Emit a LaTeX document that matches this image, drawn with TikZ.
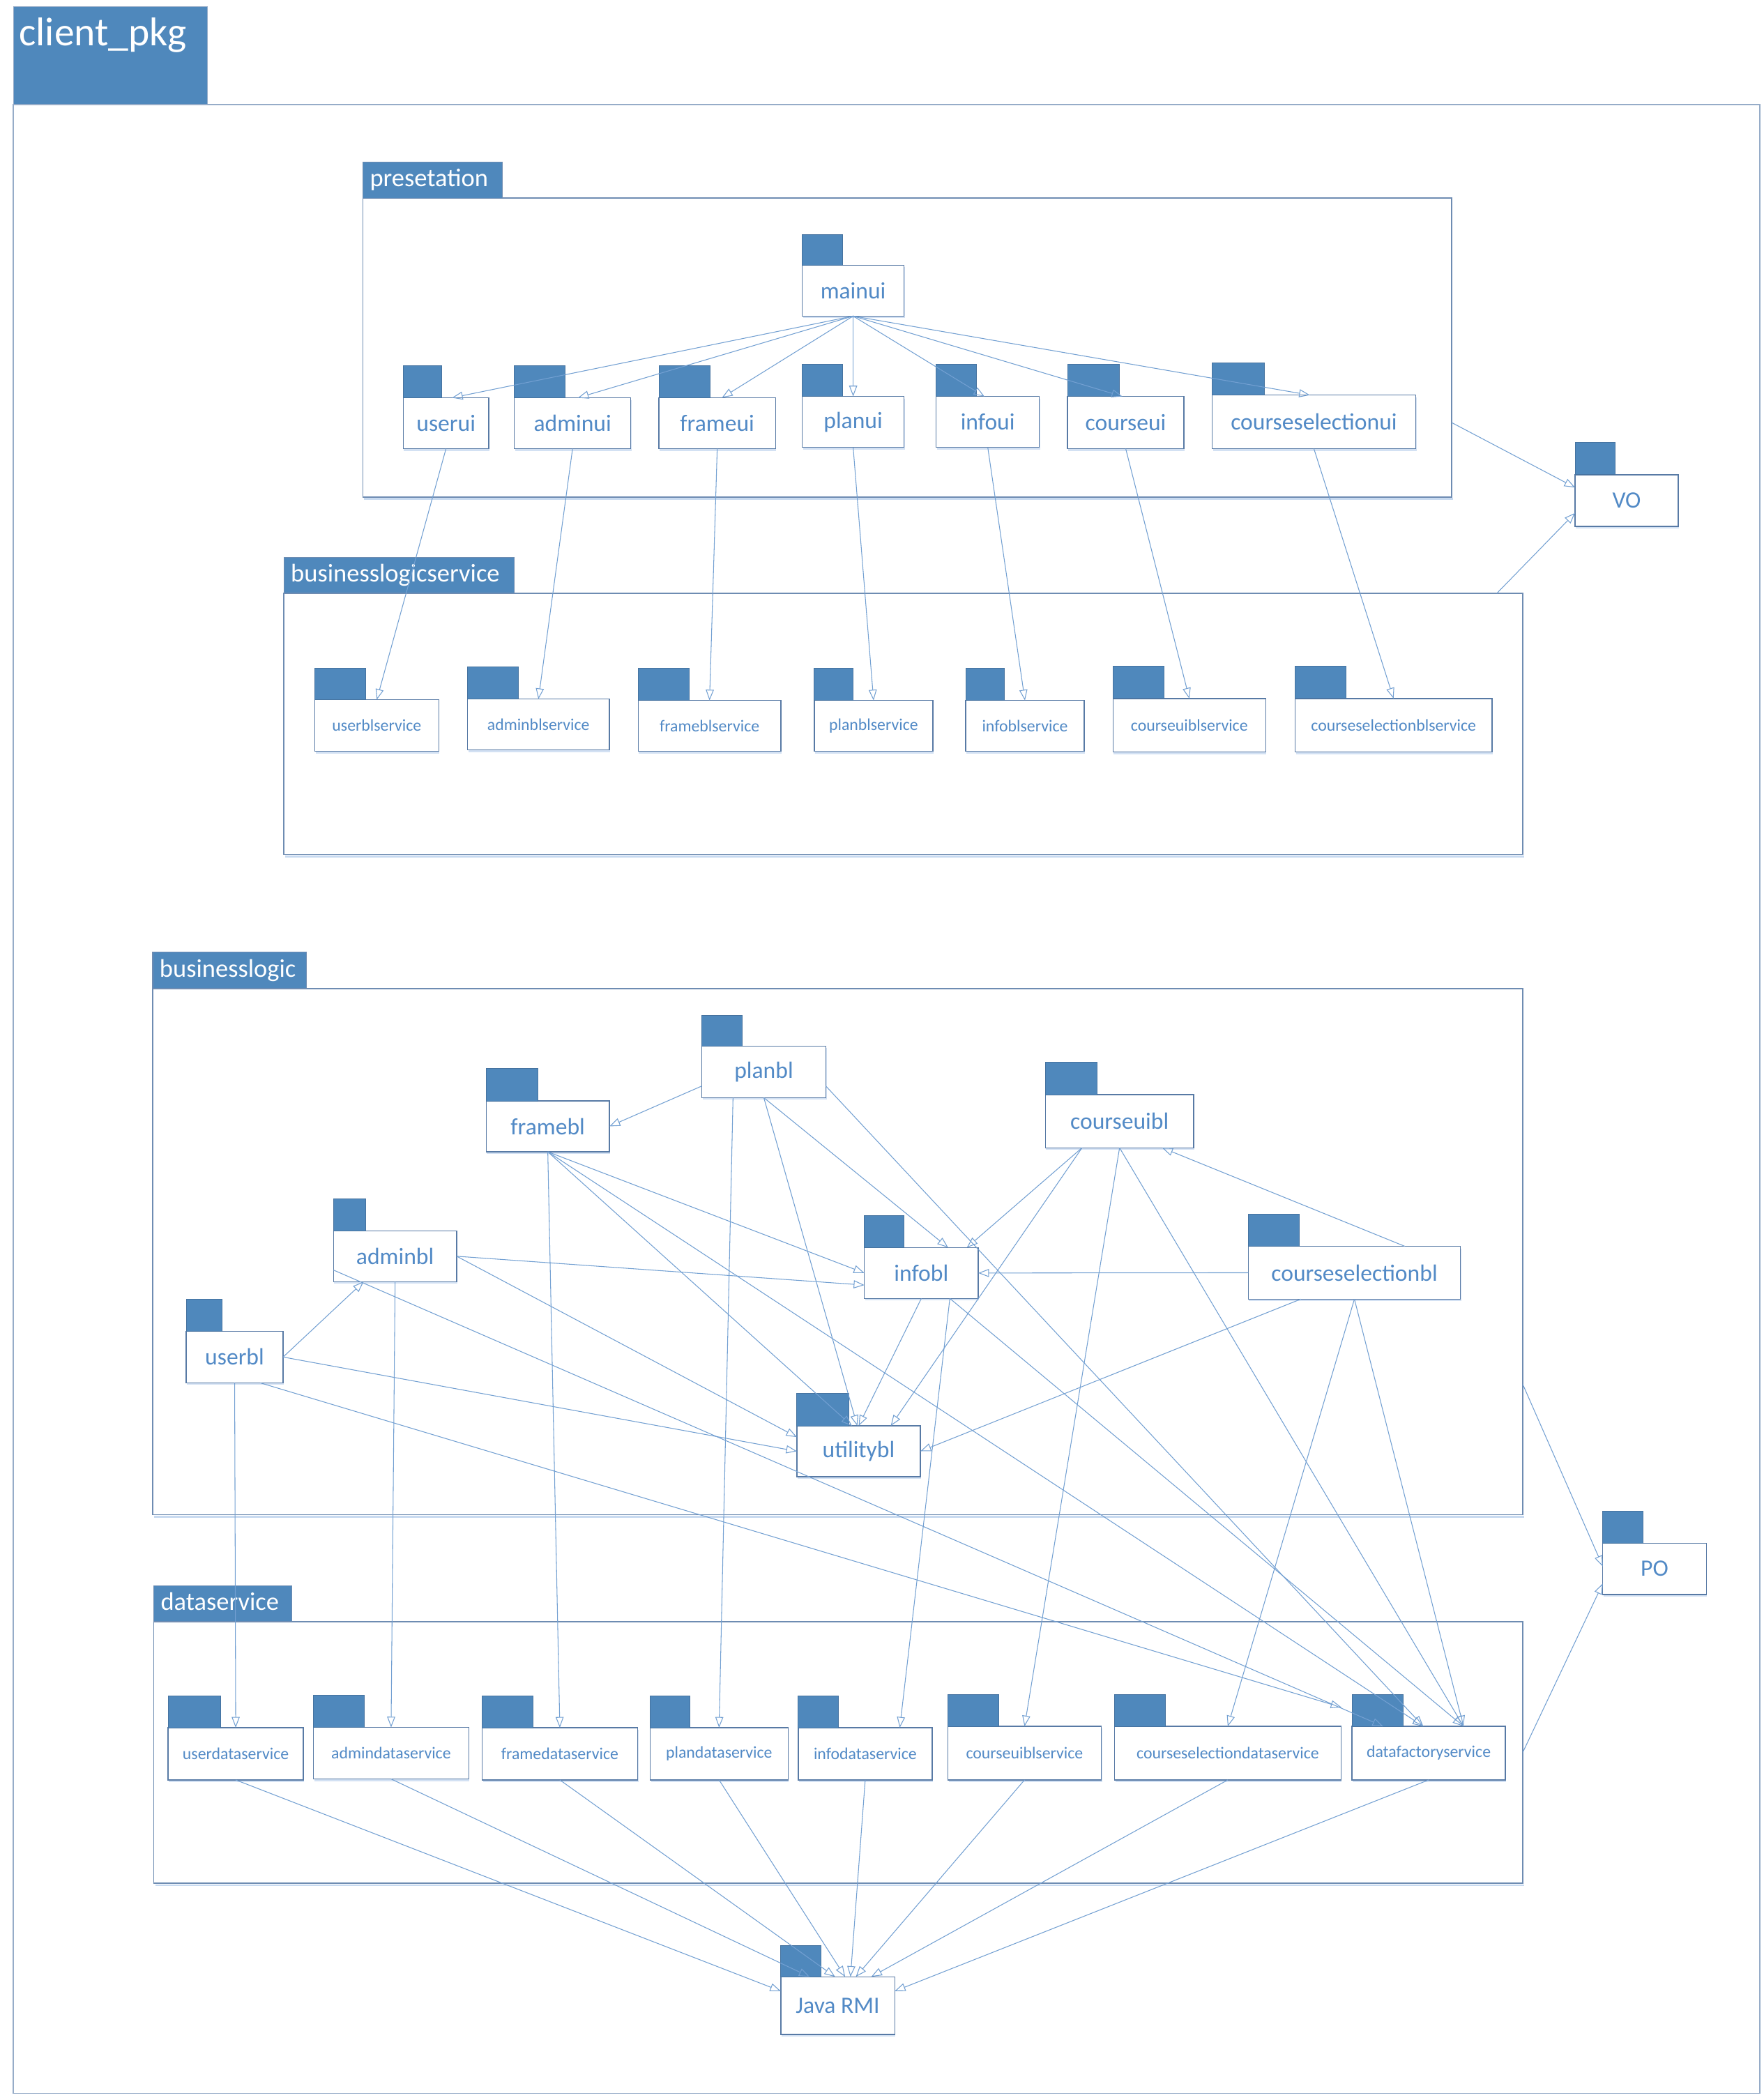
\documentclass[tikz,border=0pt]{standalone}
\usepackage{fontspec}
\setmainfont{Carlito}
\usetikzlibrary{arrows.meta,shadows}

\definecolor{tabblue}{RGB}{79,136,188}
\definecolor{tabedge}{RGB}{70,115,160}
\definecolor{outerline}{RGB}{150,172,200}
\definecolor{frameline}{RGB}{110,140,178}
\definecolor{boxline}{RGB}{88,122,165}
\definecolor{wire}{RGB}{115,160,210}
\definecolor{labelblue}{RGB}{82,138,198}
\definecolor{shadowblue}{RGB}{200,218,240}

% UML package symbol: body with text, small filled tab on its top-left
% [#1 extra style] #2 name, #3 top-left, #4 width, #5 height, #6 tab width, #7 tab height, #8 text
\newcommand\umlpkg[8][]{%
  \node[pkgbox,#1,minimum width=#4pt,minimum height=#5pt] (#2) at (#3) {#8};
  \node[pkgtab,minimum width=#6pt,minimum height=#7pt] (#2-tab) at (#2.north west) {};
}
% Container package: #1 name, #2 top-left of body, #3 width, #4 height, #5 tab width, #6 tab height, #7 label
\newcommand\container[7]{%
  \node[pkgframe,minimum width=#3pt,minimum height=#4pt] (#1) at (#2) {};
  \node[frametab,minimum width=#5pt,minimum height=#6pt] (#1-tab) at (#1.north west) {};
  \node[framelabel] (#1-label) at ([xshift=5pt,yshift=8.5pt]#1-tab.south west) {#7};
}

\begin{document}
\begin{tikzpicture}[x=1pt,y=-1pt,
  softshadow/.style={drop shadow={shadow xshift=0.6pt,shadow yshift=-1.6pt,fill=shadowblue,opacity=0.8}},
  pkgbox/.style={draw=boxline,line width=0.7pt,fill=white,inner sep=0pt,outer sep=0pt,softshadow,
    anchor=north west,text=labelblue,font=\fontsize{17.5}{20}\selectfont},
  svc/.style={font=\fontsize{12.4}{14}\selectfont},
  pkgtab/.style={draw=tabedge,line width=0.5pt,fill=tabblue,inner sep=0pt,outer sep=0pt,anchor=south west},
  pkgframe/.style={draw=frameline,line width=0.9pt,inner sep=0pt,outer sep=0pt,anchor=north west},
  frametab/.style={draw=frameline,line width=0.6pt,fill=tabblue,inner sep=0pt,outer sep=0pt,anchor=south west},
  framelabel/.style={anchor=base west,inner sep=0pt,text=white,font=\fontsize{19}{22}\selectfont},
  framefoot/.style={draw=shadowblue,line width=1.4pt},
  dep/.style={draw=wire,line width=0.55pt,-{Triangle[open,length=8pt,width=6pt]}}
]
\fill[white] (0,0) rectangle (1317,1568);
\useasboundingbox (0,0) rectangle (1317,1568);

% outer package
\node[pkgframe,draw=outerline,minimum width=1304pt,minimum height=1485pt] (client) at (10,78) {};
\node[frametab,draw=outerline,minimum width=145pt,minimum height=73pt] (client-tab) at (client.north west) {};
\node[anchor=base west,inner sep=0pt,text=white,font=\fontsize{30}{34}\selectfont] (client-label) at (14,34) {client\_pkg};

% layer packages (faint shadow under the lower edge)
\draw[framefoot] (272,372.6) -- (1085,372.6);
\draw[framefoot] (213,639.6) -- (1138,639.6);
\draw[framefoot] (115,1132.6) -- (1138,1132.6);
\draw[framefoot] (116,1407.6) -- (1138,1407.6);
\container{presetation}{271,148}{813}{223}{104}{27}{presetation}
\container{blservice}{212,443}{925}{195}{172}{27}{businesslogicservice}
\container{businesslogic}{114,738}{1023}{393}{115}{27}{businesslogic}
\container{dataservice}{114.8,1210.7}{1022.2}{195.3}{103}{26.7}{dataservice}

% presentation layer
\umlpkg{mainui}{599,198}{76}{38}{30}{23}{mainui}
\umlpkg{userui}{301,297}{64}{38}{29}{24}{userui}
\umlpkg{adminui}{384,297}{87}{38}{38}{24}{adminui}
\umlpkg{frameui}{492,297}{87}{38}{38}{24}{frameui}
\umlpkg{planui}{599,296}{76}{38}{30}{24}{planui}
\umlpkg{infoui}{699,296}{77}{38}{30}{24}{infoui}
\umlpkg{courseui}{797,296}{87}{39}{39}{24}{courseui}
\umlpkg{courseselectionui}{905,295}{152}{40}{39}{24}{courseselectionui}
\umlpkg{VO}{1176,354.5}{77}{38.5}{30}{24}{VO}

% business logic service layer
\umlpkg[svc]{userblservice}{235,522.5}{92.6}{38.5}{38}{23.5}{userblservice}
\umlpkg[svc]{adminblservice}{349,522}{106}{38}{38}{24}{adminblservice}
\umlpkg[svc]{frameblservice}{476.5,523}{106.5}{38}{38}{24}{frameblservice}
\umlpkg[svc]{planblservice}{608,523}{88.5}{38}{29}{24}{planblservice}
\umlpkg[svc]{infoblservice}{721,523}{88.5}{38}{29}{24}{infoblservice}
\umlpkg[svc]{courseuiblservice}{831,521.6}{114}{40}{38}{24}{courseuiblservice}
\umlpkg[svc]{courseselectionblservice}{967,521.6}{147}{40}{38}{24}{courseselectionblservice}

% business logic layer
\umlpkg{planbl}{524,781}{92.6}{38.6}{30}{23}{planbl}
\umlpkg{framebl}{363,822}{92}{38}{38.5}{24}{framebl}
\umlpkg{adminbl}{249,919}{92}{38}{24}{24}{adminbl}
\umlpkg{userbl}{139,994}{72.4}{38.5}{27}{24}{userbl}
\umlpkg{utilitybl}{595,1064.6}{92.2}{38}{38.8}{24}{utilitybl}
\umlpkg{infobl}{645.4,931.5}{85}{38}{29.6}{24}{infobl}
\umlpkg{courseuibl}{780.5,817.3}{110.8}{39.7}{38.5}{24}{courseuibl}
\umlpkg{courseselectionbl}{932,930.6}{158.5}{39.4}{38}{24}{courseselectionbl}
\umlpkg{PO}{1196.7,1152.2}{77.3}{38.3}{30}{24}{PO}

% data service layer
\umlpkg[svc]{userdata}{125.5,1290}{101}{39}{39}{23.5}{userdataservice}
\umlpkg[svc]{admindata}{234,1289.8}{116}{38.5}{38}{24}{admindataservice}
\umlpkg[svc]{framedata}{360,1290}{116}{39}{38}{23.5}{framedataservice}
\umlpkg[svc]{plandata}{485.4,1290}{103}{39}{29.6}{23.5}{plandataservice}
\umlpkg[svc]{infodata}{596,1290}{100}{39}{30}{23.5}{infodataservice}
\umlpkg[svc]{courseuidata}{707.7,1289}{114.5}{40}{38}{23.5}{courseuiblservice}
\umlpkg[svc]{courseseldata}{832.2,1289}{169}{40}{38}{23.5}{courseselectiondataservice}
\umlpkg[svc]{dfs}{1009.4,1289}{114.6}{40}{38.2}{24}{datafactoryservice}
\umlpkg{rmi}{583,1476}{85}{43}{30}{23.5}{Java RMI}

% mainui uses every ui package
\draw[dep] (mainui.south) -- ([xshift=4.5pt]userui.north);
\draw[dep] (mainui.south) -- ([xshift=4pt]adminui.north);
\draw[dep] (mainui.south) -- ([xshift=3.5pt]frameui.north);
\draw[dep] (mainui.south) -- (planui.north);
\draw[dep] (mainui.south) -- ([xshift=-2.5pt]infoui.north);
\draw[dep] (mainui.south) -- ([xshift=-2.5pt]courseui.north);
\draw[dep] (mainui.south) -- ([xshift=-3pt]courseselectionui.north);

% ui -> bl service
\draw[dep] (userui.south) -- (userblservice.north);
\draw[dep] (adminui.south) -- (adminblservice.north);
\draw[dep] (frameui.south) -- (frameblservice.north);
\draw[dep] (planui.south) -- (planblservice.north);
\draw[dep] (infoui.south) -- (infoblservice.north);
\draw[dep] (courseui.south) -- (courseuiblservice.north);
\draw[dep] (courseselectionui.south) -- (courseselectionblservice.north);

% value objects / persistent objects
\draw[dep] ([yshift=-56.1pt]presetation.east) -- ([yshift=9.75pt]VO.west);
\draw[dep] ([xshift=443.1pt]blservice.north) -- ([yshift=-9.25pt]VO.west);
\draw[dep] ([yshift=-99.2pt]businesslogic.east) -- ([yshift=1.8pt]PO.west);
\draw[dep] (dataservice.east) -- ([yshift=-11pt]PO.west);

% business logic dependencies
\draw[dep] ([yshift=-10.6pt]planbl.west) -- (framebl.east);
\draw[dep] (planbl.south) -- ([xshift=20pt]infobl.north);
\draw[dep] (planbl.south) -- ([xshift=-1pt]utilitybl.north);
\draw[dep] ([xshift=-23pt]planbl.south) -- (plandata.north);
\draw[dep] ([yshift=-10.6pt]planbl.east) -- ([xshift=-4pt]dfs.north);

\draw[dep] (framebl.south) -- (infobl.west);
\draw[dep] (framebl.south) -- ([xshift=-5pt]utilitybl.north);
\draw[dep] (framebl.south) -- (framedata.north);
\draw[dep] (framebl.south) -- ([xshift=-4pt]dfs.north);

\draw[dep] (adminbl.east) -- ([yshift=-9pt]infobl.west);
\draw[dep] (adminbl.east) -- ([yshift=10.6pt]utilitybl.west);
\draw[dep] (adminbl.south) -- (admindata.north);
\draw[dep] ([yshift=-10.3pt]adminbl.west) -- ([xshift=-34pt]dfs.north);

\draw[dep] (userbl.east) -- ([xshift=-23.5pt]adminbl.south);
\draw[dep] (userbl.east) -- (utilitybl.west);
\draw[dep] (userbl.south) -- (userdata.north);
\draw[dep] ([xshift=19pt]userbl.south) -- ([xshift=-7.8pt,yshift=2.2pt]dfs-tab.west);

\draw[dep] (infobl.south) -- (utilitybl.north);
\draw[dep] ([xshift=21.3pt]infobl.south) -- ([xshift=25.8pt]infodata.north);
\draw[dep] ([xshift=21.3pt]infobl.south) -- ([xshift=26pt]dfs.north);

\draw[dep] ([xshift=-28pt]courseuibl.south) -- ([xshift=34pt]infobl.north);
\draw[dep] ([xshift=-28pt]courseuibl.south) -- ([xshift=24pt]utilitybl.north);
\draw[dep] (courseuibl.south) -- (courseuidata.north);
\draw[dep] (courseuibl.south) -- ([xshift=26pt]dfs.north);

\draw[dep] ([xshift=37.75pt]courseselectionbl.north) -- ([xshift=31.8pt]courseuibl.south);
\draw[dep] (courseselectionbl.west) -- (infobl.east);
\draw[dep] ([xshift=-40pt]courseselectionbl.south) -- (utilitybl.east);
\draw[dep] (courseselectionbl.south) -- (courseseldata.north);
\draw[dep] (courseselectionbl.south) -- ([xshift=26pt]dfs.north);

% data services -> Java RMI
\draw[dep] (userdata.south) -- ([yshift=10.8pt]rmi.west);
\draw[dep] (admindata.south) -- ([xshift=-21pt]rmi.north);
\draw[dep] (framedata.south) -- ([xshift=-2pt]rmi.north);
\draw[dep] (plandata.south) -- ([xshift=5.5pt]rmi.north);
\draw[dep] (infodata.south) -- ([xshift=9.5pt]rmi.north);
\draw[dep] (courseuidata.south) -- ([xshift=13.5pt]rmi.north);
\draw[dep] (courseseldata.south) -- ([xshift=25pt]rmi.north);
\draw[dep] (dfs.south) -- ([yshift=10.8pt]rmi.east);
\end{tikzpicture}
\end{document}
